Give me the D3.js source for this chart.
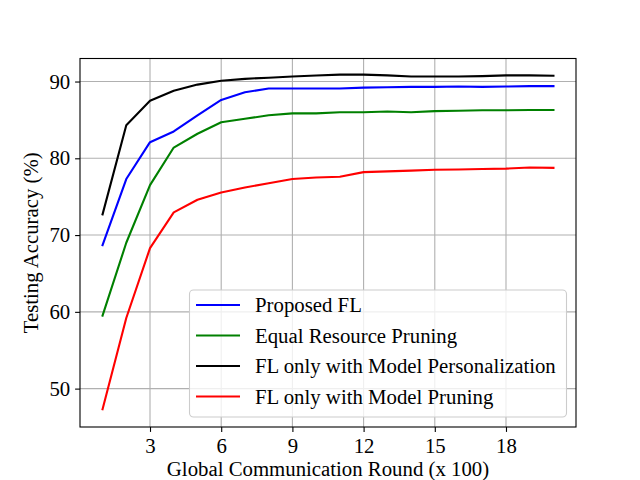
<!DOCTYPE html>
<html>
<head>
<meta charset="utf-8">
<script src="https://cdn.jsdelivr.net/npm/d3@7.9.0/dist/d3.min.js"></script>
<style>
  body { margin: 0; background: #fff; }
  svg text { font-family: "Liberation Serif", "DejaVu Serif", serif; fill: #000; }
</style>
</head>
<body>
<div id="chart"></div>
<script>
// rounds (x 100)
const rounds = d3.range(1, 21);

const proposedFL = [68.7, 77.3, 82.1, 83.5, 85.6, 87.6, 88.6, 89.1, 89.1, 89.1,
                    89.1, 89.2, 89.25, 89.3, 89.3, 89.35, 89.3, 89.35, 89.4, 89.4];
const equalPruning = [59.5, 69.0, 76.5, 81.4, 83.2, 84.7, 85.15, 85.6, 85.85, 85.85,
                      86.0, 86.0, 86.1, 86.0, 86.15, 86.2, 86.25, 86.25, 86.3, 86.3];
const personalOnly = [72.7, 84.3, 87.5, 88.8, 89.6, 90.1, 90.35, 90.5, 90.65, 90.78,
                      90.9, 90.9, 90.8, 90.65, 90.65, 90.65, 90.7, 90.8, 90.8, 90.75];
const pruningOnly = [47.3, 59.2, 68.3, 72.95, 74.6, 75.55, 76.2, 76.75, 77.3, 77.5,
                     77.6, 78.2, 78.3, 78.4, 78.5, 78.55, 78.6, 78.65, 78.8, 78.75];

const seriesNames = ['Proposed FL', 'Equal Resource Pruning',
                     'FL only with Model Personalization', 'FL only with Model Pruning'];
const seriesColors = ['#0000ff', '#008000', '#000000', '#ff0000'];
const seriesValues = [proposedFL, equalPruning, personalOnly, pruningOnly];

const xTicks = [3, 6, 9, 12, 15, 18];
const yTicks = [50, 60, 70, 80, 90];

const width = 640, height = 480;
const area = { left: 80, right: 576, top: 58.5, bottom: 427 };
const fontSize = 20.8;

const svg = d3.select('#chart').append('svg')
  .attr('width', width).attr('height', height);

// matplotlib-like 5% margins
const xScale = d3.scaleLinear().domain([0.05, 20.95]).range([area.left, area.right]);
const yScale = d3.scaleLinear().domain([45.0, 93.0]).range([area.bottom, area.top]);

// grid
const grid = svg.append('g').attr('class', 'grid');
grid.selectAll('line.gx').data(xTicks).join('line')
  .attr('x1', d => xScale(d)).attr('x2', d => xScale(d))
  .attr('y1', area.top).attr('y2', area.bottom)
  .attr('stroke', '#b0b0b0').attr('stroke-width', 1.1);
grid.selectAll('line.gy').data(yTicks).join('line')
  .attr('y1', d => yScale(d)).attr('y2', d => yScale(d))
  .attr('x1', area.left).attr('x2', area.right)
  .attr('stroke', '#b0b0b0').attr('stroke-width', 1.1);

// lines
const line = d3.line().x((d, i) => xScale(rounds[i])).y(d => yScale(d));
svg.append('g').selectAll('path').data(seriesValues).join('path')
  .attr('d', d => line(d))
  .attr('fill', 'none')
  .attr('stroke', (d, i) => seriesColors[i])
  .attr('stroke-width', 2.1)
  .attr('stroke-linejoin', 'round')
  .attr('stroke-linecap', 'square');

// axes
const xAxis = d3.axisBottom(xScale).tickValues(xTicks).tickSize(4.9).tickPadding(4.9);
const yAxis = d3.axisLeft(yScale).tickValues(yTicks).tickSize(4.9).tickPadding(4.9);

svg.append('g').attr('transform', `translate(0,${area.bottom})`).call(xAxis)
  .call(g => g.select('.domain').remove())
  .call(g => g.selectAll('text').attr('font-size', fontSize).attr('font-family', null).attr('dy', '0.79em'));
svg.append('g').attr('transform', `translate(${area.left},0)`).call(yAxis)
  .call(g => g.select('.domain').remove())
  .call(g => g.selectAll('text').attr('font-size', fontSize).attr('font-family', null));

svg.selectAll('.tick line').attr('stroke', '#000').attr('stroke-width', 1.1);

// frame
svg.append('rect')
  .attr('x', area.left).attr('y', area.top)
  .attr('width', area.right - area.left).attr('height', area.bottom - area.top)
  .attr('fill', 'none').attr('stroke', '#000').attr('stroke-width', 1.1);

// labels
svg.append('text')
  .attr('x', (area.left + area.right) / 2).attr('y', 475.5)
  .attr('text-anchor', 'middle').attr('font-size', fontSize)
  .text('Global Communication Round (x 100)');
svg.append('text')
  .attr('transform', `translate(38,${(area.top + area.bottom) / 2}) rotate(-90)`)
  .attr('text-anchor', 'middle').attr('font-size', fontSize)
  .text('Testing Accuracy (%)');

// legend
const legend = svg.append('g');
legend.append('rect')
  .attr('x', 189.5).attr('y', 290).attr('width', 377).attr('height', 127)
  .attr('rx', 4)
  .attr('fill', '#fff').attr('fill-opacity', 0.8)
  .attr('stroke', '#cccccc').attr('stroke-width', 1.1);
const rows = legend.selectAll('g.row').data(seriesNames).join('g')
  .attr('transform', (d, i) => `translate(0,${305 + i * 30.5})`);
rows.append('line')
  .attr('x1', 196).attr('x2', 240).attr('y1', 0).attr('y2', 0)
  .attr('stroke', (d, i) => seriesColors[i]).attr('stroke-width', 2.1);
rows.append('text')
  .attr('x', 255).attr('y', 0).attr('dy', '0.35em')
  .attr('font-size', fontSize)
  .text(d => d);
</script>
</body>
</html>
